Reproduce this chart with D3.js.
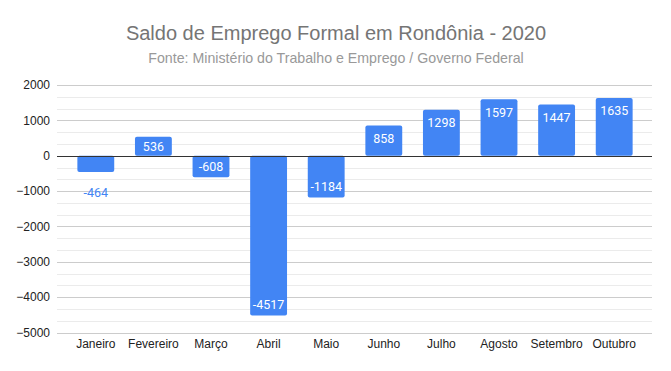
<!DOCTYPE html>
<html>
<head>
<meta charset="utf-8">
<script src="https://cdn.jsdelivr.net/npm/d3@7"></script>
<style>
  html, body { margin: 0; padding: 0; background: #fff; }
  svg { display: block; }
</style>
</head>
<body>
<svg id="chart" width="671" height="371"></svg>
<script>
const months = ['Janeiro', 'Fevereiro', 'Março', 'Abril', 'Maio', 'Junho', 'Julho', 'Agosto', 'Setembro', 'Outubro']
const saldo = [-464, 536, -608, -4517, -1184, 858, 1298, 1597, 1447, 1635]
const yTicks = [2000, 1000, 0, -1000, -2000, -3000, -4000, -5000]

const width = 671
const height = 371
const plot = { left: 57, right: 652, top: 85, bottom: 332.5 }

const svg = d3.select('#chart')

const x = d3.scaleBand()
  .domain(months)
  .range([67, 643])
  .paddingInner(0.36)
  .paddingOuter(0.18)

const y = d3.scaleLinear()
  .domain([-5000, 2000])
  .range([plot.bottom, plot.top])

// minor grid (3 per 1000)
const minor = d3.range(-5000, 2000, 1000 / 3).filter(v => Math.abs(v % 1000) > 1 && Math.abs(v % 1000) < 999)
svg.append('g')
  .selectAll('line')
  .data(minor)
  .join('line')
  .attr('x1', plot.left)
  .attr('x2', plot.right)
  .attr('y1', d => Math.round(y(d)) + 0.5)
  .attr('y2', d => Math.round(y(d)) + 0.5)
  .attr('stroke', '#ebebeb')

// major grid
svg.append('g')
  .selectAll('line')
  .data(yTicks.filter(d => d !== 0))
  .join('line')
  .attr('x1', plot.left)
  .attr('x2', plot.right)
  .attr('y1', d => Math.round(y(d)) + 0.5)
  .attr('y2', d => Math.round(y(d)) + 0.5)
  .attr('stroke', '#cccccc')

// y axis labels
const yAxis = d3.axisLeft(y).tickValues(yTicks).tickFormat(d3.format('d')).tickSize(0).tickPadding(7)
svg.append('g')
  .attr('transform', 'translate(' + plot.left + ',0)')
  .call(yAxis)
  .call(g => g.select('.domain').remove())
  .call(g => g.selectAll('text')
    .attr('font-family', 'Liberation Sans, Arial, sans-serif')
    .attr('font-size', 12)
    .attr('fill', '#222'))

// x axis labels
const xAxis = d3.axisBottom(x).tickSize(0).tickPadding(7)
svg.append('g')
  .attr('transform', 'translate(0,' + plot.bottom + ')')
  .call(xAxis)
  .call(g => g.select('.domain').remove())
  .call(g => g.selectAll('text')
    .attr('font-family', 'Liberation Sans, Arial, sans-serif')
    .attr('font-size', 12)
    .attr('fill', '#222'))

const data = months.map((m, i) => ({ month: m, value: saldo[i] }))
const barH = d => Math.abs(y(d.value) - y(0))

// bars with small rounded corners
svg.append('g')
  .selectAll('rect')
  .data(data)
  .join('rect')
  .attr('x', d => x(d.month))
  .attr('width', x.bandwidth())
  .attr('y', d => y(Math.max(0, d.value)))
  .attr('height', barH)
  .attr('rx', 2)
  .attr('fill', '#4285f4')

// zero line
svg.append('line')
  .attr('x1', plot.left)
  .attr('x2', plot.right)
  .attr('y1', Math.round(y(0)) + 0.5)
  .attr('y2', Math.round(y(0)) + 0.5)
  .attr('stroke', '#333')

// value labels: inside the bar end, centred when the bar is short, outside when too short
svg.append('g')
  .selectAll('text')
  .data(data)
  .join('text')
  .attr('x', d => x(d.month) + x.bandwidth() / 2)
  .attr('y', d => {
    const h = barH(d)
    if (d.value >= 0) return y(d.value) + Math.min(h / 2, 13)
    if (h < 18) return y(d.value) + 20.5
    return y(d.value) - Math.min(h / 2, 11)
  })
  .attr('dy', '0.35em')
  .attr('text-anchor', 'middle')
  .attr('font-family', 'Roboto, sans-serif')
  .attr('font-size', 12.5)
  .attr('fill', d => (d.value < 0 && barH(d) < 18) ? '#4285f4' : '#fff')
  .text(d => d.value)

// titles
svg.append('text')
  .attr('x', 336)
  .attr('y', 40)
  .attr('text-anchor', 'middle')
  .attr('font-family', 'Liberation Sans, Arial, sans-serif')
  .attr('font-size', 20)
  .attr('fill', '#757575')
  .text('Saldo de Emprego Formal em Rondônia - 2020')

svg.append('text')
  .attr('x', 336)
  .attr('y', 63)
  .attr('text-anchor', 'middle')
  .attr('font-family', 'Liberation Sans, Arial, sans-serif')
  .attr('font-size', 14.2)
  .attr('fill', '#999999')
  .text('Fonte: Ministério do Trabalho e Emprego / Governo Federal')
</script>
</body>
</html>
